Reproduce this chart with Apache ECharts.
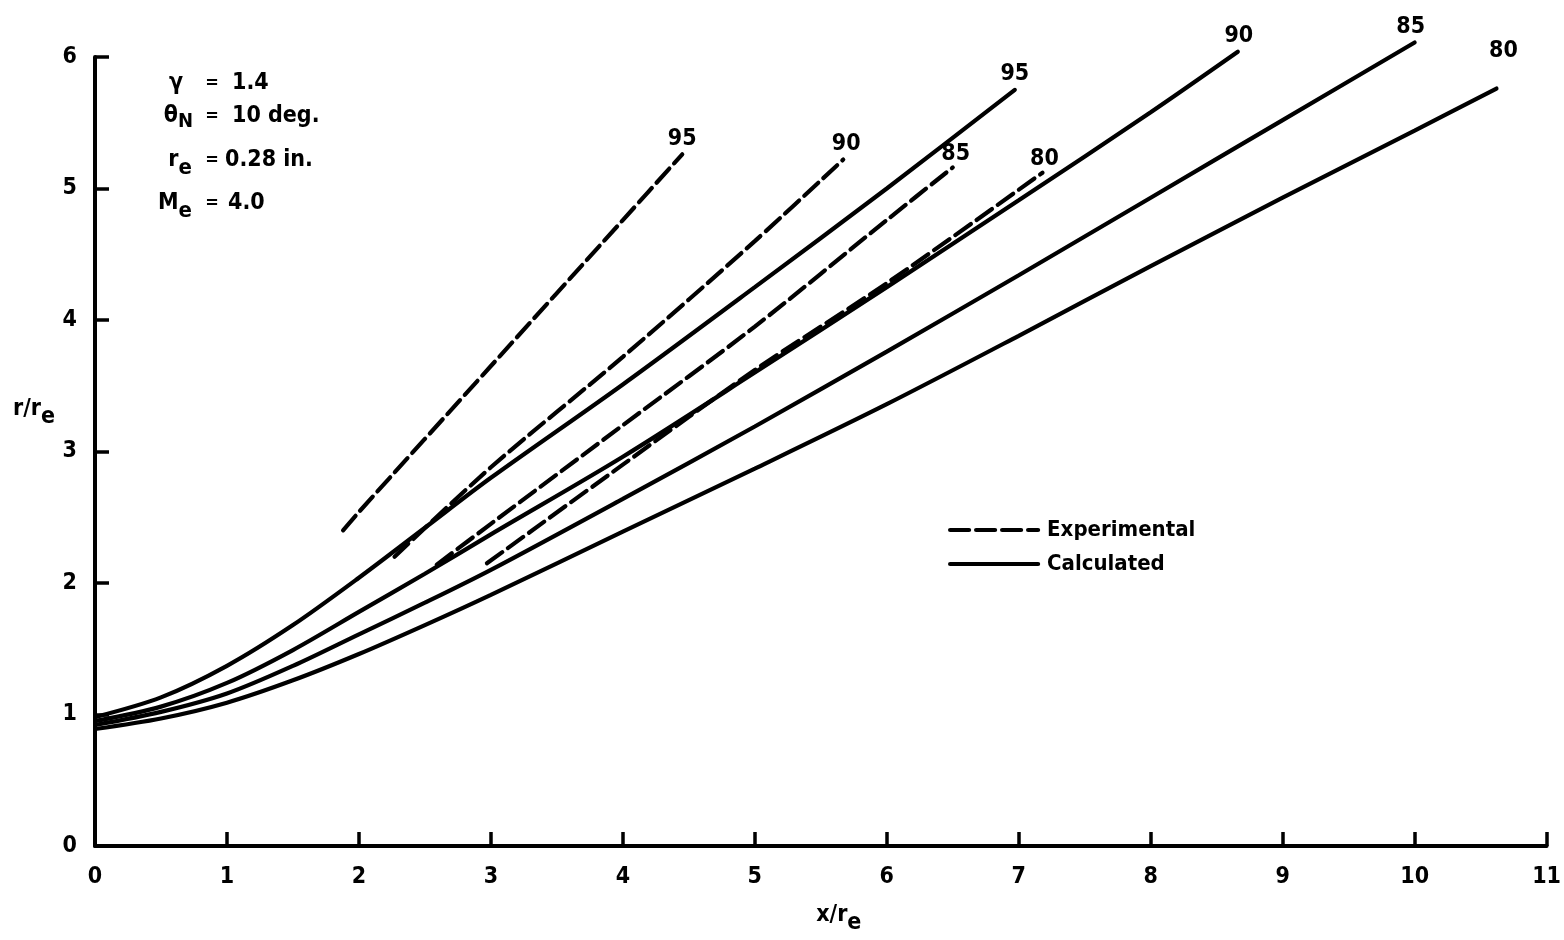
<!DOCTYPE html>
<html>
<head>
<meta charset="utf-8">
<script src="https://cdn.jsdelivr.net/npm/echarts@6/dist/echarts.min.js"></script>
<style>
  html, body { margin: 0; padding: 0; background: #fff; }
  #chart { width: 1564px; height: 940px; }
</style>
</head>
<body>
<div id="chart"></div>
<script>
// 数据：x/re, r/re
var xTicks = [0, 1, 2, 3, 4, 5, 6, 7, 8, 9, 10, 11];
var yTicks = [0, 1, 2, 3, 4, 5, 6];
var curveTags = ['95', '90', '85', '80'];

// Experimental (dashed)
var exp95 = [[1.88, 2.40], [2, 2.54], [3, 3.65], [4, 4.76], [4.45, 5.26]];
var exp90 = [[2.27, 2.20], [3, 2.88], [4, 3.72], [5, 4.60], [5.67, 5.22]];
var exp85 = [[2.59, 2.14], [3, 2.45], [4, 3.20], [5, 3.95], [6, 4.76], [6.5, 5.16]];
var exp80 = [[2.97, 2.15], [4, 2.90], [5, 3.62], [6, 4.28], [7.18, 5.12]];

// Calculated (solid)
var calc95 = [[0, 0.98], [0.5, 1.13], [1, 1.37], [1.5, 1.68], [2, 2.04], [2.5, 2.42], [3, 2.80], [4, 3.51], [5, 4.25], [6, 5.00], [6.97, 5.75]];
var calc90 = [[0, 0.95], [0.5, 1.06], [1, 1.24], [1.5, 1.49], [2, 1.78], [2.5, 2.07], [3, 2.37], [4, 2.96], [5, 3.60], [6, 4.25], [7, 4.91], [8, 5.58], [8.66, 6.04]];
var calc85 = [[0, 0.92], [0.5, 1.02], [1, 1.16], [1.5, 1.37], [2, 1.61], [2.5, 1.85], [3, 2.10], [4, 2.64], [5, 3.19], [6, 3.76], [7, 4.34], [8, 4.93], [9, 5.52], [10, 6.11]];
var calc80 = [[0, 0.89], [0.5, 0.97], [1, 1.09], [1.5, 1.26], [2, 1.46], [2.5, 1.68], [3, 1.91], [4, 2.39], [5, 2.87], [6, 3.36], [7, 3.88], [8, 4.41], [9, 4.93], [10, 5.44], [10.62, 5.76]];

var expSets = [exp95, exp90, exp85, exp80];
var calcSets = [calc95, calc90, calc85, calc80];

var FONT = '"Liberation Sans Narrow", "DejaVu Sans Condensed", "DejaVu Sans", sans-serif';
var expLabelOffset = [[0, 0], [3, 0], [3, 2], [2, 2]];
var calcLabelOffset = [[0, 0], [1, 0], [-4, 0], [7, -22]];

function buildSeries (name, sets, offsets, dashed) {
  return sets.map(function (pts, i) {
    var data = pts.map(function (p, j) {
      if (j < pts.length - 1) return p;
      return {
        value: p,
        label: {
          show: true,
          position: 'top',
          distance: 4,
          offset: offsets[i],
          formatter: curveTags[i],
          color: '#000',
          fontFamily: FONT,
          fontWeight: 'bold',
          fontSize: 23
        }
      };
    });
    return {
      name: name,
      type: 'line',
      smooth: 0.3,
      symbol: 'circle',
      symbolSize: 0.1,
      showSymbol: true,
      clip: false,
      silent: true,
      data: data,
      lineStyle: {
        color: '#000',
        width: 4.2,
        type: dashed ? [19, 7] : 'solid',
        cap: 'round'
      },
      itemStyle: { color: '#000' }
    };
  });
}

var chart = echarts.init(document.getElementById('chart'), null, { renderer: 'canvas' });

var tickLabel = { color: '#000', fontFamily: FONT, fontWeight: 'bold', fontSize: 23 };

function txt (x, y, s, align, size, rich) {
  return {
    type: 'text', x: x, y: y, silent: true,
    style: { text: s, textAlign: align, textVerticalAlign: 'middle', font: 'bold ' + size + 'px ' + FONT, fill: '#000', rich: rich }
  };
}
var subRich = { s: { fontFamily: FONT, fontWeight: 'bold', fontSize: 22, padding: [16, 0, 0, 0] } };

var option = {
  backgroundColor: '#fff',
  animation: false,
  grid: { left: 95, right: 14, top: 57, bottom: 80, containLabel: false },
  legend: {
    data: ['Experimental', 'Calculated'],
    orient: 'vertical',
    left: 943,
    top: 514,
    itemWidth: 88,
    itemHeight: 20,
    itemGap: 12,
    selectedMode: false,
    itemStyle: { opacity: 0 },
    lineStyle: { width: 4.2 },
    textStyle: { color: '#000', fontFamily: FONT, fontWeight: 'bold', fontSize: 22, padding: [0, 0, 0, 4] }
  },
  xAxis: {
    type: 'value',
    min: 0,
    max: 11,
    interval: 1,
    name: 'x/r{s|e}',
    nameLocation: 'middle',
    nameGap: 50,
    nameTextStyle: {
      color: '#000', fontFamily: FONT, fontWeight: 'bold', fontSize: 23,
      padding: [0, 0, 0, 36],
      rich: { s: { fontFamily: FONT, fontWeight: 'bold', fontSize: 23, padding: [16, 0, 0, 0] } }
    },
    axisLine: { show: true, lineStyle: { color: '#000', width: 4 } },
    axisTick: { show: true, inside: true, length: 14, lineStyle: { color: '#000', width: 3.5 } },
    axisLabel: Object.assign({ margin: 20, showMinLabel: true, showMaxLabel: true }, tickLabel),
    splitLine: { show: false }
  },
  yAxis: {
    type: 'value',
    min: 0,
    max: 6,
    interval: 1,
    name: 'r/r{s|e}',
    nameLocation: 'middle',
    nameRotate: 0,
    nameGap: 40,
    nameTextStyle: {
      color: '#000', fontFamily: FONT, fontWeight: 'bold', fontSize: 23,
      padding: [0, 0, 84, 0],
      rich: { s: { fontFamily: FONT, fontWeight: 'bold', fontSize: 23, padding: [16, 0, 0, 0] } }
    },
    axisLine: { show: true, lineStyle: { color: '#000', width: 4 } },
    axisTick: { show: true, inside: true, length: 14, lineStyle: { color: '#000', width: 3.5 } },
    axisLabel: Object.assign({ margin: 18 }, tickLabel),
    splitLine: { show: false }
  },
  graphic: [
    txt(183, 83, 'γ', 'right', 23),
    txt(212, 83, '=', 'center', 18),
    txt(232, 83, '1.4', 'left', 23),

    txt(193, 116, 'θ{s|N}', 'right', 23, { s: { fontFamily: FONT, fontWeight: 'bold', fontSize: 20, padding: [12, 0, 0, 0] } }),
    txt(212, 116, '=', 'center', 18),
    txt(232, 116, '10 deg.', 'left', 23),

    txt(192, 160, 'r{s|e}', 'right', 23, subRich),
    txt(212, 160, '=', 'center', 18),
    txt(225, 160, '0.28 in.', 'left', 23),

    txt(192, 203, 'M{s|e}', 'right', 23, subRich),
    txt(212, 203, '=', 'center', 18),
    txt(228, 203, '4.0', 'left', 23)
  ],
  series: buildSeries('Experimental', expSets, expLabelOffset, true)
    .concat(buildSeries('Calculated', calcSets, calcLabelOffset, false))
};

chart.setOption(option);
</script>
</body>
</html>
